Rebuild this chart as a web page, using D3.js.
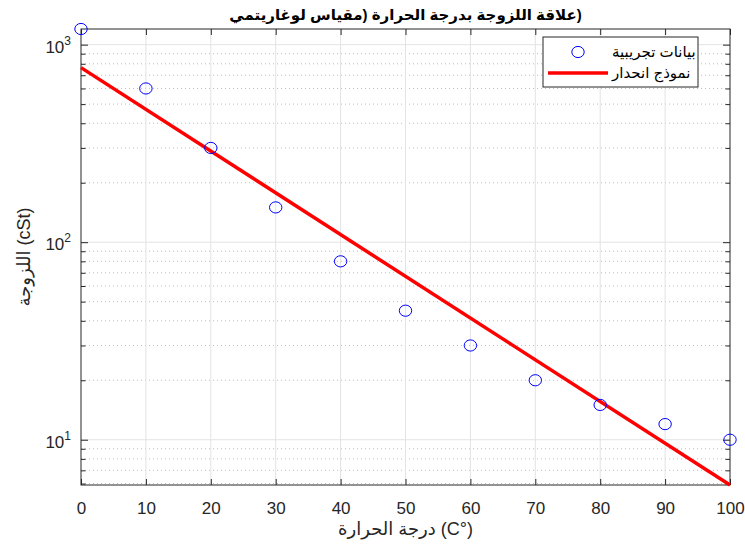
<!DOCTYPE html>
<html>
<head>
<meta charset="utf-8">
<script src="https://cdn.jsdelivr.net/npm/d3@7"></script>
<style>
  body { margin: 0; background: #ffffff; }
  svg { display: block; font-family: "Liberation Sans", Arial, "DejaVu Sans", sans-serif; }
</style>
</head>
<body>
<script>
// Data
const temps = [0, 10, 20, 30, 40, 50, 60, 70, 80, 90, 100];
const viscosity = [1200, 600, 300, 150, 80, 45, 30, 20, 15, 12, 10];
const fitTemps = [0, 100];
const fitViscosity = [765, 5.9];
const xTicks = [0, 10, 20, 30, 40, 50, 60, 70, 80, 90, 100];
const yMajorTicks = [10, 100, 1000];
const yMinorTicks = [6, 7, 8, 9, 20, 30, 40, 50, 60, 70, 80, 90, 200, 300, 400, 500, 600, 700, 800, 900];
const yExponents = {10: "1", 100: "2", 1000: "3"};

// closing paren isolated so it sits at the far right like in the source figure
const titleText = "علاقة اللزوجة بدرجة الحرارة (مقياس لوغاريتمي\u2066)\u2069";
const xLabelText = "درجة الحرارة (C°)";
const yLabelText = "اللزوجة (cSt)";
const legendLabels = ["بيانات تجريبية", "نموذج انحدار"];

const SVG_WIDTH = 745, SVG_HEIGHT = 544;
const margin = {top: 29, left: 81, bottom: 59, right: 15};
const width = SVG_WIDTH - margin.left - margin.right;
const height = SVG_HEIGHT - margin.top - margin.bottom;
const axisColor = "#262626";

let svg = null;
let x, y = null;

// Main Process
appendSvg("body");
setupScales();
appendGrid();
appendAxes();
appendLabels();
appendMarks();
appendLegend();

function appendSvg(domElement) {
  svg = d3.select(domElement).append("svg")
          .attr("width", SVG_WIDTH)
          .attr("height", SVG_HEIGHT)
          .append("g")
          .attr("transform", `translate(${margin.left}, ${margin.top})`);
}

function setupScales() {
  x = d3.scaleLinear().domain([0, 100]).range([0, width]);
  y = d3.scaleLog().domain([5.9, 1200]).range([height, 0]);
}

// major solid grid + dotted minor grid on y
function appendGrid() {
  const grid = svg.append("g").attr("class", "grid");

  grid.selectAll(".ymin").data(yMinorTicks).join("line")
      .attr("x1", 0).attr("x2", width)
      .attr("y1", d => y(d)).attr("y2", d => y(d))
      .attr("stroke", "#bdbdbd").attr("stroke-width", 1)
      .attr("stroke-dasharray", "1,3");

  grid.selectAll(".xmaj").data(xTicks.slice(1, -1)).join("line")
      .attr("x1", d => x(d)).attr("x2", d => x(d))
      .attr("y1", 0).attr("y2", height)
      .attr("stroke", "#e3e3e3").attr("stroke-width", 1);

  grid.selectAll(".ymaj").data(yMajorTicks).join("line")
      .attr("x1", 0).attr("x2", width)
      .attr("y1", d => y(d)).attr("y2", d => y(d))
      .attr("stroke", "#e3e3e3").attr("stroke-width", 1);
}

function appendAxes() {
  // bottom
  const xb = svg.append("g")
      .attr("transform", `translate(0, ${height})`)
      .call(d3.axisBottom(x).tickValues(xTicks).tickSize(-6).tickPadding(17).tickFormat(d3.format("d")));
  // top
  const xt = svg.append("g")
      .call(d3.axisTop(x).tickValues(xTicks).tickSize(-6).tickFormat(""));
  // left major + minor
  const yl = svg.append("g")
      .call(d3.axisLeft(y).tickValues(yMajorTicks).tickSize(-7).tickPadding(10).tickFormat(() => "10"));
  const ylm = svg.append("g")
      .call(d3.axisLeft(y).tickValues(yMinorTicks).tickSize(-4.5).tickFormat(""));
  // right major + minor
  const yr = svg.append("g")
      .attr("transform", `translate(${width}, 0)`)
      .call(d3.axisRight(y).tickValues(yMajorTicks).tickSize(-7).tickFormat(""));
  const yrm = svg.append("g")
      .attr("transform", `translate(${width}, 0)`)
      .call(d3.axisRight(y).tickValues(yMinorTicks).tickSize(-4.5).tickFormat(""));

  [xb, xt, yl, ylm, yr, yrm].forEach(g => {
    g.select(".domain").remove();
    g.selectAll(".tick line").attr("stroke", axisColor);
    g.selectAll("text").attr("fill", axisColor).style("font-size", "17px")
      .style("font-family", "'Liberation Sans', Arial, sans-serif");
  });

  // superscript exponents on log labels
  yl.selectAll(".tick text")
    .attr("dy", "0.45em")
    .append("tspan")
    .attr("dy", "-8")
    .style("font-size", "12px")
    .text(d => yExponents[d]);

  svg.append("rect")
     .attr("x", 0).attr("y", 0)
     .attr("width", width).attr("height", height)
     .attr("fill", "none")
     .attr("stroke", axisColor)
     .attr("stroke-width", 1);
}

function appendLabels() {
  svg.append("text")
     .attr("x", width / 2).attr("y", -9)
     .attr("text-anchor", "middle")
     .style("font-size", "15px").style("font-weight", "bold")
     .attr("fill", "#000")
     .text(titleText);

  svg.append("text")
     .attr("x", width / 2).attr("y", height + 50)
     .attr("text-anchor", "middle")
     .style("font-size", "18px")
     .attr("fill", axisColor)
     .text(xLabelText);

  svg.append("text")
     .attr("transform", `translate(${-51}, ${height / 2}) rotate(-90)`)
     .attr("text-anchor", "middle")
     .style("font-size", "18px")
     .attr("fill", axisColor)
     .text(yLabelText);
}

function appendMarks() {
  const line = d3.line()
      .x((d, i) => x(fitTemps[i]))
      .y(d => y(d));

  svg.append("path")
     .datum(fitViscosity)
     .attr("d", line)
     .attr("fill", "none")
     .attr("stroke", "#ff0000")
     .attr("stroke-width", 3.5);

  svg.selectAll(".dot").data(viscosity).join("ellipse")
     .attr("cx", (d, i) => x(temps[i]))
     .attr("cy", d => y(d))
     .attr("rx", 6.2).attr("ry", 5.6)
     .attr("fill", "none")
     .attr("stroke", "#0000ff")
     .attr("stroke-width", 1);
}

function appendLegend() {
  const lg = svg.append("g")
      .attr("transform", `translate(${543 - margin.left}, ${37 - margin.top})`);

  lg.append("rect")
    .attr("width", 155).attr("height", 50)
    .attr("fill", "#ffffff")
    .attr("stroke", axisColor).attr("stroke-width", 1);

  lg.append("ellipse")
    .attr("cx", 35).attr("cy", 15)
    .attr("rx", 6.2).attr("ry", 5.6)
    .attr("fill", "none").attr("stroke", "#0000ff");

  lg.append("line")
    .attr("x1", 5).attr("x2", 65)
    .attr("y1", 36).attr("y2", 36)
    .attr("stroke", "#ff0000").attr("stroke-width", 3.5);

  lg.selectAll(".lab").data(legendLabels).join("text")
    .attr("x", 69)
    .attr("y", (d, i) => 20 + i * 21)
    .style("font-size", "15px")
    .attr("fill", "#000")
    .text(d => d);
}
</script>
</body>
</html>
